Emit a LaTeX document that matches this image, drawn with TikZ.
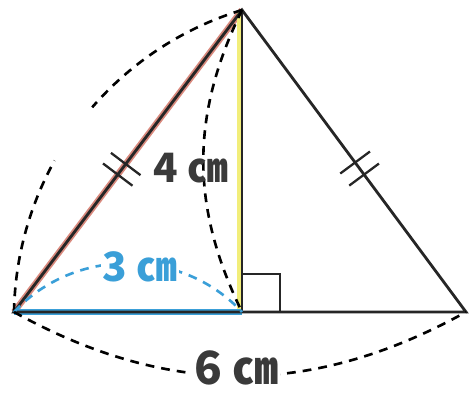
\documentclass[tikz,border=0pt]{standalone}
\usepackage{fontspec}
\newfontfamily\jpfont{Noto Sans CJK JP}
\usetikzlibrary{calc}
\definecolor{trblue}{HTML}{3A9FD8}
\definecolor{trred}{HTML}{D98A7E}
\definecolor{tryellow}{HTML}{F2EE7A}
\definecolor{trgray}{HTML}{3A3A3A}

\begin{document}
\begin{tikzpicture}[x=0.02cm,y=0.02cm,
   side/.style={line width=1.6pt,black!85},
   dsh/.style={line width=1.5pt,dash pattern=on 5pt off 4pt},
   lbl/.style={font=\jpfont\bfseries\fontsize{23}{23}\selectfont,
               text=trgray,inner sep=1pt},
   tick/.style={line width=1.3pt,black!85}]
  \useasboundingbox (0,0) rectangle (470,393);
  \coordinate (A) at (242,383);
  \coordinate (B) at (14,81);
  \coordinate (H) at (242,81);
  \coordinate (C) at (466,81);
  % highlights
  \draw[trred,line width=3.6pt] (B) -- (A);
  \draw[tryellow,line width=3pt] ([xshift=-1.5pt]H) -- ([xshift=-1.5pt]A);
  \draw[trblue,line width=3.4pt] (B) -- (H);
  % triangle
  \draw[side,line join=miter] (B) -- (A) -- (C) -- cycle;
  \draw[side] (A) -- (H);
  \draw[tick] ($(H)+(0,38)$) -| ($(H)+(38,0)$);
  % equal sides
  \foreach \t in {0.455,0.49}
    \draw[tick] ($(B)!\t!(A)!0.37cm!90:(A)$) -- ($(B)!\t!(A)!0.37cm!-90:(A)$);
  \foreach \t in {0.505,0.545}
    \draw[tick] ($(A)!\t!(C)!0.37cm!90:(C)$) -- ($(A)!\t!(C)!0.37cm!-90:(C)$);
  % arcs
  \draw[dsh] (B) arc[start angle=179,end angle=151,radius=324];
  \draw[dsh] (A) arc[start angle=107,end angle=139,radius=324];
  \draw[dsh] (A) to[bend right=26] (H);
  \draw[dsh,trblue] (B) to[bend left=47] (H);
  \draw[dsh] (B) to[bend right=29] (C);
  % labels
  \node[lbl] (hgt) at (191,225) {4 ㎝};
  \node[lbl,text=trblue,fill=white] (half) at (140,126) {3 ㎝};
  \node[lbl,fill=white,font=\jpfont\bfseries\fontsize{26}{26}\selectfont] (base) at (236,25) {6 ㎝};
\end{tikzpicture}
\end{document}
